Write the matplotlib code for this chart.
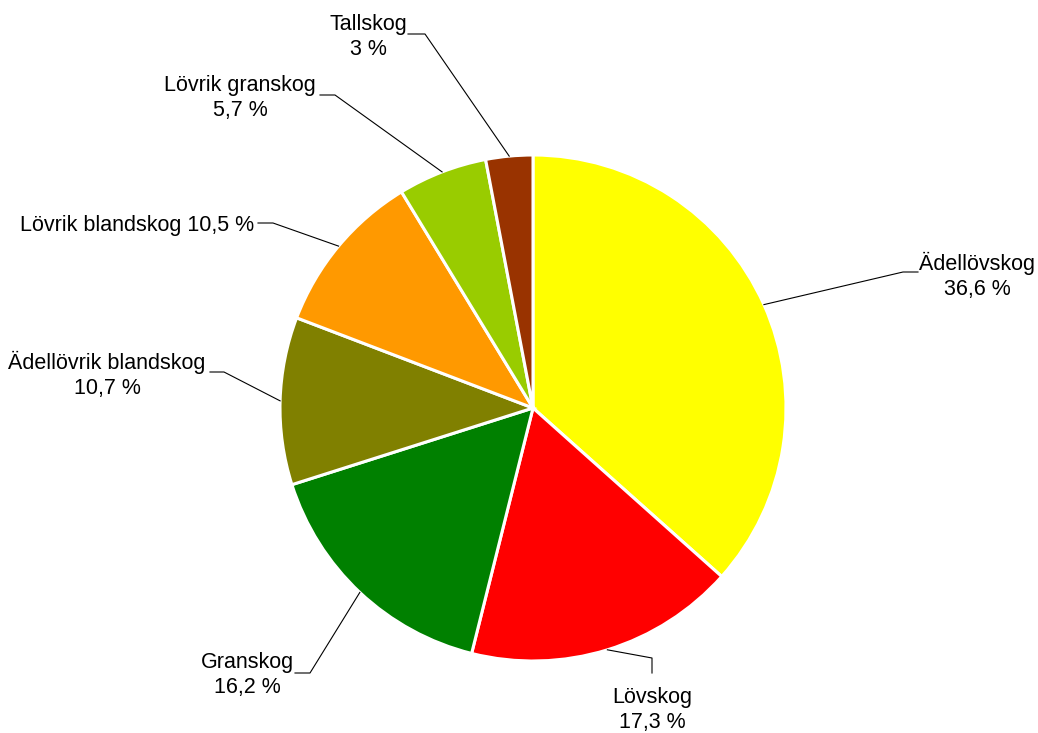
import numpy as np
import matplotlib.pyplot as plt

plt.rcParams['font.family'] = ['Liberation Sans', 'DejaVu Sans']

# data
kategorier = ['Ädellövskog', 'Lövskog', 'Granskog', 'Ädellövrik blandskog',
              'Lövrik blandskog', 'Lövrik granskog', 'Tallskog']
andelar = [36.6, 17.3, 16.2, 10.7, 10.5, 5.7, 3]
etiketter = ['Ädellövskog\n36,6 %', 'Lövskog\n17,3 %', 'Granskog\n16,2 %',
             'Ädellövrik blandskog\n10,7 %', 'Lövrik blandskog 10,5 %',
             'Lövrik granskog\n5,7 %', 'Tallskog\n3 %']
farger = ['#FFFF00', '#FF0000', '#008000', '#808000', '#FF9900', '#99CC00', '#993300']

# layout (pixels, y from top)
W, H = 1038, 733
centrum = (533, 408)
radie = 253
text_pos = [(977, 276), (652, 710), (247, 675), (107, 375), (137, 225), (240, 98), (368, 37)]
knack = [(903, 272), (652, 658), (310, 673), (224, 372), (273, 223), (335, 95), (425, 34)]
slut = [(918, 272), (652, 673), (295, 673), (210, 372), (258, 223), (320, 95), (408, 34)]


def py(y):
    return H - y


fig = plt.figure(figsize=(W / 100, H / 100), dpi=100)
ax = fig.add_axes([0, 0, 1, 1])

wedges, _ = ax.pie(andelar, colors=farger, startangle=90, counterclock=False,
                   center=(centrum[0], py(centrum[1])), radius=radie,
                   wedgeprops=dict(edgecolor='white', linewidth=2.2))

# pie() sätter egna gränser, så sätt dem efteråt
ax.set_xlim(0, W)
ax.set_ylim(0, H)
ax.set_aspect('equal')
ax.axis('off')

for w, txt, tp, kn, sl in zip(wedges, etiketter, text_pos, knack, slut):
    mitt = np.deg2rad((w.theta1 + w.theta2) / 2)
    sx = centrum[0] + radie * np.cos(mitt)
    sy = py(centrum[1]) + radie * np.sin(mitt)
    ax.plot([sx, kn[0], sl[0]], [sy, py(kn[1]), py(sl[1])], color='black', lw=0.8)
    ax.text(tp[0], py(tp[1]), txt, ha='center', va='center', fontsize=15.5,
            linespacing=1.3)

fig.savefig('out.png', dpi=100)
